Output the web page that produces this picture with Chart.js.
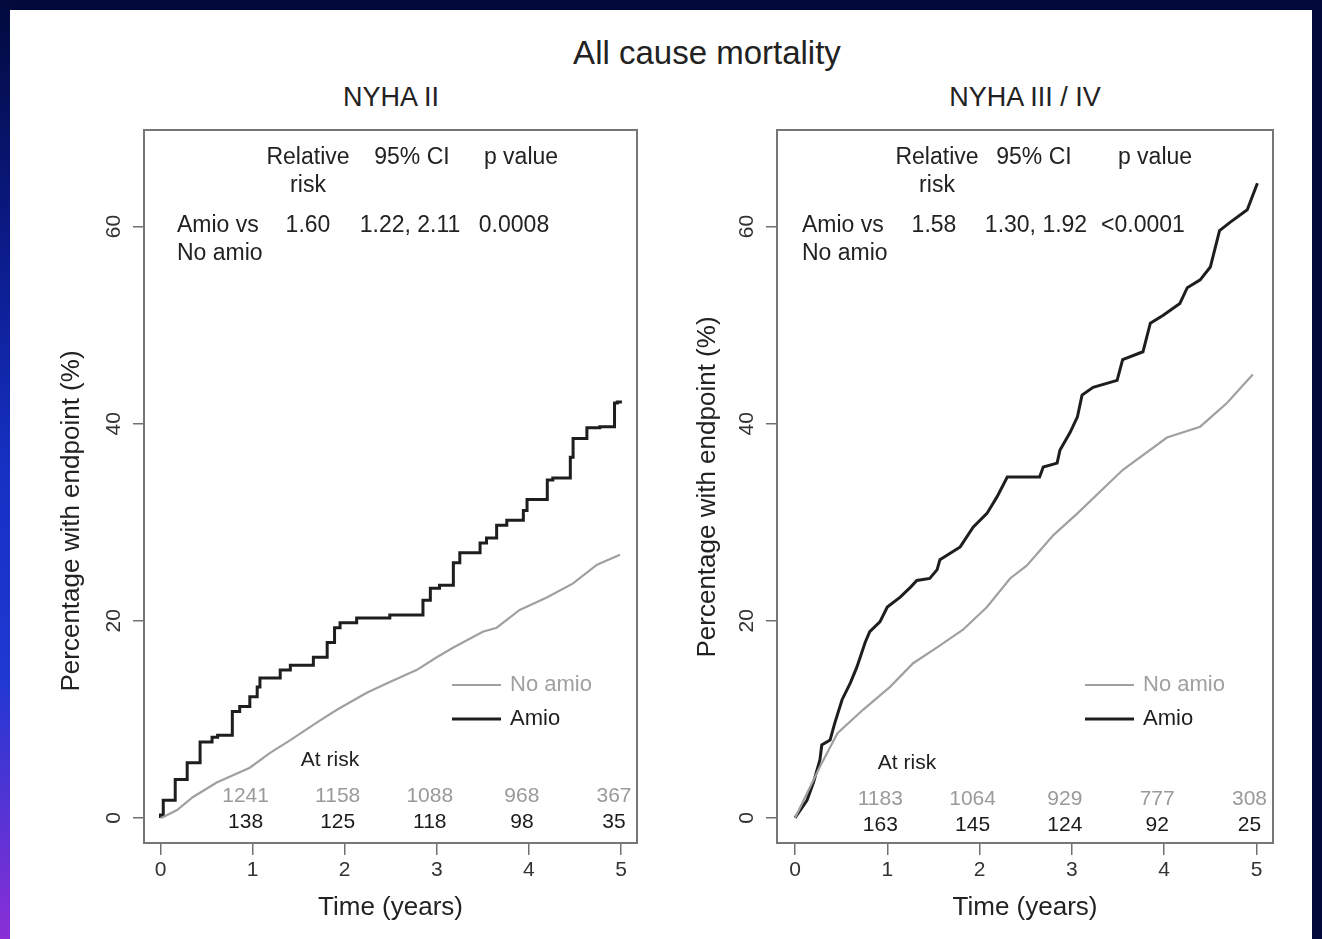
<!DOCTYPE html>
<html>
<head>
<meta charset="utf-8">
<script src="https://cdn.jsdelivr.net/npm/chart.js@4.4.1/dist/chart.umd.min.js"></script>
<style>
  body { margin: 0; width: 1322px; height: 939px; overflow: hidden; background: #020a3c; position: relative;
         font-family: "Liberation Sans", Arial, sans-serif; }
  #strip { position: absolute; left: 0; top: 0; width: 10px; height: 939px;
           background: linear-gradient(#020a3c 0%, #0b1a86 25%, #1631c4 50%, #1f38d2 72%, #8a2fd6 100%); }
  #panel { position: absolute; left: 10px; top: 10px; width: 1302px; height: 929px; background: #fff; }
  .t { position: absolute; color: #222; white-space: nowrap; transform: translate(-50%, -50%); }
  canvas { position: absolute; }
</style>
</head>
<body>
<div id="strip"></div>
<div id="panel"></div>
<div class="t" style="left:707px; top:53px; font-size:33px;">All cause mortality</div>
<div class="t" style="left:391px; top:97px; font-size:27px;">NYHA II</div>
<div class="t" style="left:1025px; top:97px; font-size:27px;">NYHA III / IV</div>
<canvas id="left" width="620" height="815" style="left:30px; top:120px;"></canvas>
<canvas id="right" width="620" height="815" style="left:665px; top:120px;"></canvas>
<script>
const FONT = '"Liberation Sans", Arial, sans-serif';

// axis ticks
const xTicks = [0, 1, 2, 3, 4, 5];
const yTicks = [0, 20, 40, 60];

// NYHA II - cumulative % with endpoint
const nyha2AmioT   = [0, 0.03, 0.16, 0.29, 0.43, 0.56, 0.62, 0.78, 0.86, 0.97, 1.05, 1.08, 1.30, 1.41, 1.48, 1.66, 1.81, 1.89, 1.95, 2.13, 2.49, 2.85, 2.93, 3.03, 3.18, 3.25, 3.47, 3.54, 3.65, 3.76, 3.94, 3.98, 4.20, 4.26, 4.45, 4.48, 4.63, 4.77, 4.93, 4.96, 5.01];
const nyha2AmioPct = [0, 0.3, 1.8, 3.9, 5.6, 7.7, 8.2, 8.4, 10.8, 11.3, 12.3, 13.3, 14.2, 15.0, 15.5, 15.5, 16.3, 17.8, 19.3, 19.8, 20.3, 20.6, 22.1, 23.3, 23.6, 25.9, 26.9, 27.9, 28.4, 29.7, 30.2, 31.2, 32.3, 34.3, 34.5, 36.6, 38.5, 39.6, 39.7, 42.1, 42.2];
const nyha2NoAmioT   = [0, 0.03, 0.18, 0.35, 0.61, 0.97, 1.19, 1.41, 1.70, 1.92, 2.24, 2.49, 2.78, 3.00, 3.18, 3.50, 3.65, 3.90, 4.20, 4.48, 4.74, 4.99];
const nyha2NoAmioPct = [0, 0.1, 0.8, 2.1, 3.6, 5.1, 6.6, 7.9, 9.7, 11.0, 12.7, 13.8, 15.0, 16.3, 17.3, 18.9, 19.3, 21.1, 22.4, 23.8, 25.7, 26.7];

// NYHA III / IV
const nyha34AmioT   = [0, 0.13, 0.20, 0.27, 0.29, 0.38, 0.43, 0.51, 0.60, 0.67, 0.76, 0.81, 0.92, 1.00, 1.14, 1.25, 1.32, 1.46, 1.54, 1.57, 1.79, 1.93, 2.08, 2.19, 2.30, 2.65, 2.69, 2.84, 2.87, 2.98, 3.06, 3.11, 3.23, 3.49, 3.55, 3.77, 3.85, 3.99, 4.17, 4.25, 4.39, 4.50, 4.60, 4.71, 4.90, 5.01];
const nyha34AmioPct = [0, 1.8, 3.6, 5.9, 7.4, 7.9, 9.6, 12.0, 13.7, 15.3, 17.8, 18.9, 19.9, 21.4, 22.4, 23.4, 24.1, 24.3, 25.2, 26.2, 27.5, 29.5, 30.9, 32.6, 34.6, 34.6, 35.6, 36.0, 37.3, 39.1, 40.7, 42.9, 43.7, 44.4, 46.5, 47.3, 50.2, 51.0, 52.2, 53.8, 54.6, 55.9, 59.6, 60.4, 61.7, 64.4];
const nyha34NoAmioT   = [0, 0.27, 0.46, 0.74, 1.03, 1.28, 1.54, 1.82, 2.08, 2.33, 2.51, 2.80, 3.06, 3.55, 4.03, 4.39, 4.68, 4.96];
const nyha34NoAmioPct = [0, 5.2, 8.6, 11.0, 13.3, 15.7, 17.3, 19.1, 21.4, 24.3, 25.6, 28.7, 30.9, 35.3, 38.6, 39.7, 42.1, 45.0];

// numbers at risk
const atRiskYears = [1, 2, 3, 4, 5];
const nyha2NoAmioRisk  = [1241, 1158, 1088, 968, 367];
const nyha2AmioRisk    = [138, 125, 118, 98, 35];
const nyha34NoAmioRisk = [1183, 1064, 929, 777, 308];
const nyha34AmioRisk   = [163, 145, 124, 92, 25];

// stats table
const tableHead = ['Relative', '95% CI', 'p value'];
const rowLabels = ['Amio vs', 'No amio'];
const nyha2Stats  = ['1.60', '1.22, 2.11', '0.0008'];
const nyha34Stats = ['1.58', '1.30, 1.92', '<0.0001'];

function pts(t, p) { return t.map((v, i) => ({ x: v, y: p[i] })); }

const annot = {
  id: 'annot',
  beforeDatasetsDraw(chart) {
    const { ctx, chartArea: a } = chart;
    ctx.save();
    ctx.strokeStyle = '#767676';
    ctx.lineWidth = 2;
    ctx.strokeRect(a.left, a.top, a.right - a.left, a.bottom - a.top);
    ctx.restore();
  },
  afterDatasetsDraw(chart, args, o) {
    const { ctx, chartArea: a, scales: { x } } = chart;
    ctx.save();
    ctx.textBaseline = 'middle';
    ctx.fillStyle = '#222';
    ctx.font = '23px ' + FONT;

    // table
    ctx.textAlign = 'center';
    tableHead.forEach((s, i) => ctx.fillText(s, a.left + o.headX[i], a.top + 28));
    ctx.fillText('risk', a.left + o.headX[0], a.top + 56);
    o.stats.forEach((s, i) => ctx.fillText(s, a.left + o.statX[i], a.top + 96));
    ctx.textAlign = 'left';
    ctx.fillText(rowLabels[0], a.left + o.labelX, a.top + 96);
    ctx.fillText(rowLabels[1], a.left + o.labelX, a.top + 124);

    // legend
    ctx.font = '22px ' + FONT;
    chart.data.datasets.forEach((d, i) => {
      const ly = a.top + 555 + i * 34;
      ctx.strokeStyle = d.borderColor;
      ctx.lineWidth = d.borderWidth;
      ctx.beginPath();
      ctx.moveTo(a.left + 308, ly);
      ctx.lineTo(a.left + 357, ly);
      ctx.stroke();
      ctx.fillStyle = d.borderColor;
      ctx.fillText(d.label, a.left + 366, ly);
    });

    // at risk
    ctx.textAlign = 'center';
    ctx.fillStyle = '#222';
    ctx.font = '21px ' + FONT;
    ctx.fillText('At risk', a.left + o.riskX, a.top + o.riskY);
    atRiskYears.forEach((yr, i) => {
      const px = x.getPixelForValue(yr) - 7;
      ctx.fillStyle = '#9a9a9a';
      ctx.fillText(String(o.noRisk[i]), px, a.top + o.riskY + 36);
      ctx.fillStyle = '#1a1a1a';
      ctx.fillText(String(o.amRisk[i]), px, a.top + o.riskY + 62);
    });

    // y title
    ctx.fillStyle = '#222';
    ctx.font = '26px ' + FONT;
    ctx.translate(o.yTitle[0], o.yTitle[1]);
    ctx.rotate(-Math.PI / 2);
    ctx.fillText('Percentage with endpoint (%)', 0, 0);
    ctx.restore();
  }
};

function makePanel(id, amio, noAmio, cfg) {
  new Chart(document.getElementById(id), {
    type: 'line',
    data: {
      datasets: [
        { label: 'No amio', data: noAmio, borderColor: '#a0a0a0', borderWidth: 2.2, pointRadius: 0 },
        { label: 'Amio', data: amio, borderColor: '#1e1e1e', borderWidth: 3, pointRadius: 0, stepped: cfg.stepped }
      ]
    },
    plugins: [annot],
    options: {
      responsive: false,
      animation: false,
      layout: { padding: { top: 10, right: cfg.padRight, bottom: 0, left: 0 } },
      plugins: { legend: { display: false }, tooltip: { enabled: false }, annot: cfg },
      scales: {
        x: {
          type: 'linear', min: cfg.xMin, max: cfg.xMax,
          afterBuildTicks: s => { s.ticks = xTicks.map(v => ({ value: v })); },
          afterFit: s => { s.height = 92; s.paddingLeft = 0; s.paddingRight = 0; },
          border: { display: false },
          grid: { drawOnChartArea: false, tickLength: 12, color: '#707070', lineWidth: 1.5 },
          ticks: { font: { size: 21, family: FONT }, color: '#333', padding: 3, maxRotation: 0 },
          title: { display: true, text: 'Time (years)', font: { size: 26, family: FONT }, color: '#222',
                   padding: { top: 0, bottom: 12 } }
        },
        y: {
          min: -2.54, max: 69.8,
          afterBuildTicks: s => { s.ticks = yTicks.map(v => ({ value: v })); },
          afterFit: s => { s.width = cfg.yWidth; s.paddingTop = 0; s.paddingBottom = 0; },
          border: { display: false },
          grid: { drawOnChartArea: false, tickLength: 11, color: '#707070', lineWidth: 1.5 },
          ticks: { font: { size: 21, family: FONT }, color: '#333', padding: 7, minRotation: 90, maxRotation: 90,
                   crossAlign: 'center' }
        }
      }
    }
  });
}

makePanel('left', pts(nyha2AmioT, nyha2AmioPct), pts(nyha2NoAmioT, nyha2NoAmioPct), {
  xMin: -0.179, xMax: 5.174, yWidth: 114, padRight: 13, stepped: 'after',
  headX: [164, 268, 377], statX: [164, 266, 370], labelX: 33, stats: nyha2Stats,
  riskX: 186, riskY: 630, noRisk: nyha2NoAmioRisk, amRisk: nyha2AmioRisk,
  yTitle: [42, 401]
});

makePanel('right', pts(nyha34AmioT, nyha34AmioPct), pts(nyha34NoAmioT, nyha34NoAmioPct), {
  xMin: -0.195, xMax: 5.179, yWidth: 112, padRight: 12, stepped: false,
  headX: [160, 257, 378], statX: [157, 259, 366], labelX: 25, stats: nyha34Stats,
  riskX: 130, riskY: 633, noRisk: nyha34NoAmioRisk, amRisk: nyha34AmioRisk,
  yTitle: [43, 367]
});
</script>
</body>
</html>
